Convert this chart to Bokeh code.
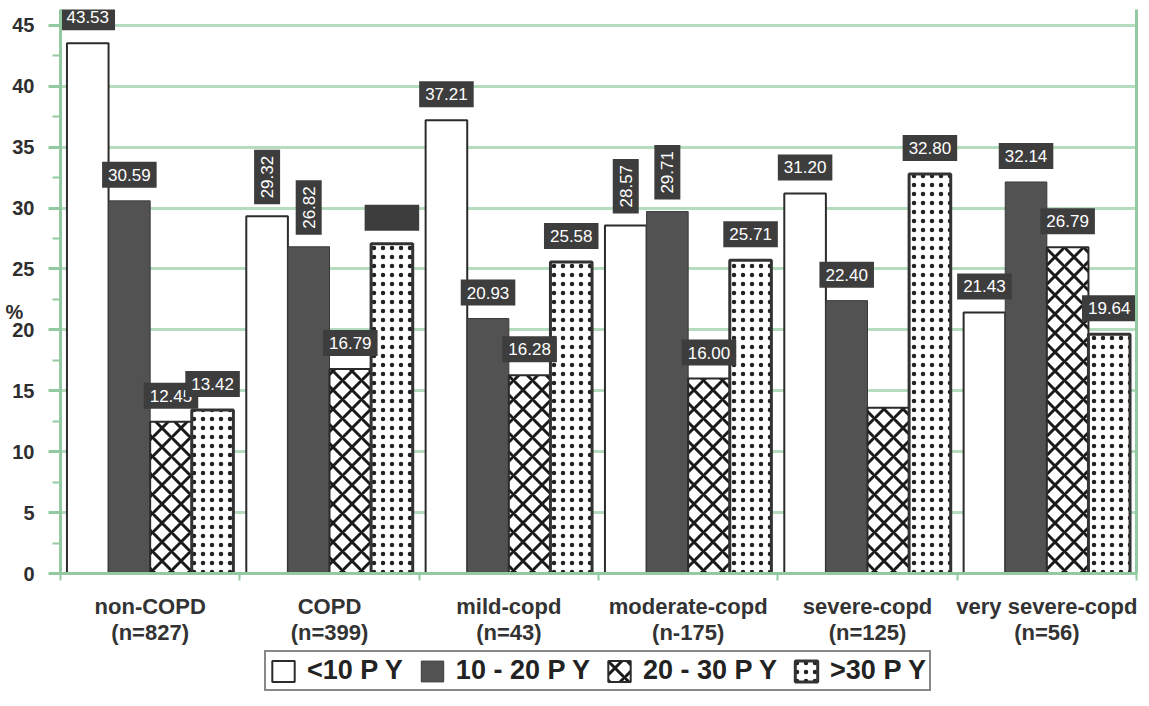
import numpy as np
from bokeh.plotting import figure
from bokeh.layouts import column
from bokeh.models import (ColumnDataSource, Range1d, FixedTicker, LinearAxis,
                          Legend, LegendItem)
from bokeh.core.properties import value
from bokeh.transform import dodge
from bokeh.embed import file_html
from bokeh.resources import INLINE

# ---------------- data ----------------
categories = ["non-COPD", "COPD", "mild-copd", "moderate-copd", "severe-copd", "very severe-copd"]
group_sizes = ["(n=827)", "(n=399)", "(n=43)", "(n-175)", "(n=125)", "(n=56)"]
series_names = ["<10 P Y", "10 - 20 P Y", "20 - 30 P Y", ">30 P Y"]
py_lt10 = [43.53, 29.32, 37.21, 28.57, 31.20, 21.43]
py_10_20 = [30.59, 26.82, 20.93, 29.71, 22.40, 32.14]
py_20_30 = [12.45, 16.79, 16.28, 16.00, 13.60, 26.79]
py_gt30 = [13.42, 27.07, 25.58, 25.71, 32.80, 19.64]
# printed value labels: which are missing, rotated, or printed illegibly
unlabelled = [("severe-copd", 2)]
vertical_labels = [("COPD", 0), ("COPD", 1), ("moderate-copd", 0), ("moderate-copd", 1)]
illegible_labels = [("COPD", 3)]
y_ticks = list(range(0, 50, 5))
y_label = "%"

all_series = [py_lt10, py_10_20, py_20_30, py_gt30]

FONT = "Liberation Sans"
GREEN_GRID = "#b6dcc0"
GREEN_AXIS = "#93c9a1"
BOX = "#3d3d3d"
BW = 0.232
W = 1146

p = figure(width=W, height=649, x_range=Range1d(0, 6), y_range=Range1d(0, 46.3),
           output_backend="svg", toolbar_location=None,
           min_border_left=60, min_border_right=10, min_border_top=9, min_border_bottom=76,
           background_fill_color="white", border_fill_color="white",
           outline_line_color=None)

# ---------------- axes ----------------
yax = p.yaxis[0]
yax.ticker = FixedTicker(ticks=y_ticks, minor_ticks=[t + 2.5 for t in y_ticks[:-1]])
yax.axis_line_color = GREEN_AXIS
yax.axis_line_width = 3
yax.major_tick_line_color = GREEN_AXIS
yax.major_tick_line_width = 3
yax.major_tick_out = 12
yax.major_tick_in = 0
yax.minor_tick_line_color = GREEN_AXIS
yax.minor_tick_line_width = 2
yax.minor_tick_out = 8
yax.minor_tick_in = 0
yax.major_label_text_font = FONT
yax.major_label_text_font_style = "bold"
yax.major_label_text_font_size = "20px"
yax.major_label_text_color = "#2e2e2e"
yax.major_label_standoff = 14
yax.axis_label = "\n" + y_label
yax.axis_label_orientation = "horizontal"
yax.axis_label_text_font = FONT
yax.axis_label_text_font_style = "bold"
yax.axis_label_text_font_size = "20px"
yax.axis_label_text_color = "#2e2e2e"
yax.axis_label_text_baseline = "top"
yax.axis_label_text_line_height = 1.9
yax.axis_label_standoff = -14

centers = [i + 0.5 for i in range(len(categories))]
xax = p.xaxis[0]
xax.ticker = FixedTicker(ticks=centers, minor_ticks=list(range(len(categories) + 1)))
xax.major_label_overrides = {c: f"{name}\n{n}" for c, name, n in zip(centers, categories, group_sizes)}
xax.axis_line_color = GREEN_AXIS
xax.axis_line_width = 3
xax.major_tick_out = 0
xax.major_tick_in = 0
xax.minor_tick_line_color = GREEN_AXIS
xax.minor_tick_line_width = 2
xax.minor_tick_out = 7
xax.minor_tick_in = 0
xax.major_label_text_font = FONT
xax.major_label_text_font_style = "bold"
xax.major_label_text_font_size = "22px"
xax.major_label_text_line_height = 1.05
xax.major_label_text_color = "#333333"
xax.major_label_standoff = 13

right_ax = LinearAxis(ticker=FixedTicker(ticks=[]), axis_line_color=GREEN_AXIS,
                      axis_line_width=3, major_label_text_font_size="0px",
                      major_tick_out=0, minor_tick_out=0)
p.add_layout(right_ax, "right")

p.xgrid.visible = False
p.ygrid.ticker = FixedTicker(ticks=y_ticks[1:])
p.ygrid.grid_line_color = GREEN_GRID
p.ygrid.grid_line_width = 3

# ---------------- bars ----------------
styles = [
    dict(fill_color="white", line_color="#2b2b2b", line_width=2),
    dict(fill_color="#525252", line_color="#3a3a3a", line_width=1),
    dict(fill_color="white", line_color="#2b2b2b", line_width=2,
         hatch_pattern="diagonal_cross", hatch_color="#1a1a1a", hatch_weight=3, hatch_scale=19),
    dict(fill_color="white", line_color="#333333", line_width=3,
         hatch_pattern="dot", hatch_color="#222222", hatch_weight=2, hatch_scale=9),
]

sources = []
for j, vals in enumerate(all_series):
    src = ColumnDataSource(dict(x=centers, top=vals))
    sources.append(src)
    p.vbar(x=dodge("x", (j - 1.5) * BW, range=p.x_range), top="top", bottom=0,
           width=BW, source=src, **styles[j])

# ---------------- value labels ----------------
horiz = dict(x=[], y=[], text=[], color=[])
vert = dict(x=[], y=[], text=[], color=[])
for j, vals in enumerate(all_series):
    for i, v in enumerate(vals):
        key = (categories[i], j)
        if key in unlabelled:
            continue
        target = vert if key in vertical_labels else horiz
        target["x"].append(centers[i] + (j - 1.5) * BW)
        target["y"].append(v)
        target["text"].append(f"{v:.2f}")
        target["color"].append(BOX if key in illegible_labels else "white")

common = dict(text_font=value(FONT), text_font_size="17px", text_color="color",
              background_fill_color=BOX, padding=(6, 7))
p.text(x="x", y="y", text="text", source=ColumnDataSource(horiz),
       text_align="center", text_baseline="bottom", y_offset=-13, **common)
p.text(x="x", y="y", text="text", source=ColumnDataSource(vert),
       angle=np.pi / 2, text_align="left", text_baseline="middle",
       y_offset=-12, **common)

# ---------------- legend (own strip below the chart) ----------------
# the strip holds the same series as hidden renderers, so only their legend swatches show
lf = figure(width=W, height=48, x_range=Range1d(0, 6), y_range=Range1d(500, 501),
            x_axis_type=None, y_axis_type=None, output_backend="svg",
            toolbar_location=None, min_border=0, outline_line_color=None,
            background_fill_color="white", border_fill_color="white")
swatches = []
for src, st in zip(sources, styles):
    r = lf.vbar(x="x", top="top", bottom=0, width=BW, source=src, **st)
    r.visible = False
    swatches.append(r)
legend = Legend(items=[LegendItem(label=n, renderers=[r]) for n, r in zip(series_names, swatches)],
                orientation="horizontal", location=(204, 6),
                label_text_font=FONT, label_text_font_style="bold", label_text_font_size="27px",
                label_text_color="#222222", glyph_width=28, glyph_height=26,
                label_standoff=10, spacing=15, padding=3, margin=0,
                border_line_color="#111111", border_line_width=2,
                background_fill_color="white", inactive_fill_alpha=0)
lf.add_layout(legend, "center")

layout = column(p, lf, spacing=0)
open("out.html", "w").write(file_html(layout, INLINE))
